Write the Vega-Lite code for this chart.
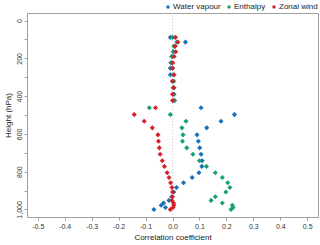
{
  "$schema": "https://vega.github.io/schema/vega-lite/v6.json",
  "autosize": {"type": "none"},
  "width": 291,
  "height": 204,
  "padding": {"left": 27, "top": 13, "right": 2, "bottom": 28},
  "background": "white",
  "config": {
    "view": {"stroke": "#a0a0a0", "strokeWidth": 1},
    "font": "Liberation Sans",
    "axis": {"grid": false, "domain": false, "tickColor": "#a0a0a0", "labelColor": "#333333", "titleColor": "#222222", "labelFont": "Liberation Sans", "titleFont": "Liberation Sans", "titleFontWeight": "normal", "labelOverlap": false, "labelFlush": false},
    "legend": {"layout": {"top": {"anchor": "end"}}}
  },
  "data": {
    "values": [
      {"p": 89, "r": -0.008, "series": "Water vapour"},
      {"p": 114, "r": 0.048, "series": "Water vapour"},
      {"p": 136, "r": 0.008, "series": "Water vapour"},
      {"p": 165, "r": 0.003, "series": "Water vapour"},
      {"p": 190, "r": -0.002, "series": "Water vapour"},
      {"p": 223, "r": -0.006, "series": "Water vapour"},
      {"p": 252, "r": -0.008, "series": "Water vapour"},
      {"p": 287, "r": -0.008, "series": "Water vapour"},
      {"p": 321, "r": 0.0, "series": "Water vapour"},
      {"p": 356, "r": 0.003, "series": "Water vapour"},
      {"p": 390, "r": 0.006, "series": "Water vapour"},
      {"p": 423, "r": 0.008, "series": "Water vapour"},
      {"p": 462, "r": 0.106, "series": "Water vapour"},
      {"p": 498, "r": 0.23, "series": "Water vapour"},
      {"p": 533, "r": 0.18, "series": "Water vapour"},
      {"p": 568, "r": 0.127, "series": "Water vapour"},
      {"p": 605, "r": 0.091, "series": "Water vapour"},
      {"p": 639, "r": 0.096, "series": "Water vapour"},
      {"p": 674, "r": 0.101, "series": "Water vapour"},
      {"p": 708, "r": 0.106, "series": "Water vapour"},
      {"p": 742, "r": 0.11, "series": "Water vapour"},
      {"p": 772, "r": 0.109, "series": "Water vapour"},
      {"p": 806, "r": 0.098, "series": "Water vapour"},
      {"p": 831, "r": 0.073, "series": "Water vapour"},
      {"p": 859, "r": 0.041, "series": "Water vapour"},
      {"p": 884, "r": 0.015, "series": "Water vapour"},
      {"p": 908, "r": 0.005, "series": "Water vapour"},
      {"p": 933, "r": -0.003, "series": "Water vapour"},
      {"p": 952, "r": -0.013, "series": "Water vapour"},
      {"p": 966, "r": -0.033, "series": "Water vapour"},
      {"p": 978, "r": -0.042, "series": "Water vapour"},
      {"p": 990, "r": -0.026, "series": "Water vapour"},
      {"p": 1000, "r": -0.069, "series": "Water vapour"},
      {"p": 89, "r": 0.001, "series": "Enthalpy"},
      {"p": 114, "r": 0.016, "series": "Enthalpy"},
      {"p": 136, "r": 0.005, "series": "Enthalpy"},
      {"p": 165, "r": 0.003, "series": "Enthalpy"},
      {"p": 190, "r": -0.003, "series": "Enthalpy"},
      {"p": 223, "r": -0.004, "series": "Enthalpy"},
      {"p": 252, "r": 0.0, "series": "Enthalpy"},
      {"p": 287, "r": 0.002, "series": "Enthalpy"},
      {"p": 321, "r": 0.005, "series": "Enthalpy"},
      {"p": 356, "r": 0.006, "series": "Enthalpy"},
      {"p": 390, "r": 0.003, "series": "Enthalpy"},
      {"p": 423, "r": 0.004, "series": "Enthalpy"},
      {"p": 462, "r": -0.086, "series": "Enthalpy"},
      {"p": 498, "r": -0.008, "series": "Enthalpy"},
      {"p": 533, "r": 0.05, "series": "Enthalpy"},
      {"p": 568, "r": 0.035, "series": "Enthalpy"},
      {"p": 605, "r": 0.039, "series": "Enthalpy"},
      {"p": 639, "r": 0.037, "series": "Enthalpy"},
      {"p": 674, "r": 0.053, "series": "Enthalpy"},
      {"p": 708, "r": 0.076, "series": "Enthalpy"},
      {"p": 742, "r": 0.1, "series": "Enthalpy"},
      {"p": 772, "r": 0.126, "series": "Enthalpy"},
      {"p": 806, "r": 0.159, "series": "Enthalpy"},
      {"p": 831, "r": 0.185, "series": "Enthalpy"},
      {"p": 859, "r": 0.205, "series": "Enthalpy"},
      {"p": 884, "r": 0.213, "series": "Enthalpy"},
      {"p": 908, "r": 0.198, "series": "Enthalpy"},
      {"p": 933, "r": 0.159, "series": "Enthalpy"},
      {"p": 952, "r": 0.143, "series": "Enthalpy"},
      {"p": 966, "r": 0.185, "series": "Enthalpy"},
      {"p": 978, "r": 0.222, "series": "Enthalpy"},
      {"p": 990, "r": 0.225, "series": "Enthalpy"},
      {"p": 1000, "r": 0.217, "series": "Enthalpy"},
      {"p": 89, "r": 0.011, "series": "Zonal wind"},
      {"p": 114, "r": 0.02, "series": "Zonal wind"},
      {"p": 136, "r": 0.01, "series": "Zonal wind"},
      {"p": 165, "r": 0.012, "series": "Zonal wind"},
      {"p": 190, "r": 0.006, "series": "Zonal wind"},
      {"p": 223, "r": 0.001, "series": "Zonal wind"},
      {"p": 252, "r": 0.0, "series": "Zonal wind"},
      {"p": 287, "r": 0.006, "series": "Zonal wind"},
      {"p": 321, "r": 0.0, "series": "Zonal wind"},
      {"p": 356, "r": 0.004, "series": "Zonal wind"},
      {"p": 390, "r": 0.0, "series": "Zonal wind"},
      {"p": 423, "r": 0.0, "series": "Zonal wind"},
      {"p": 462, "r": -0.063, "series": "Zonal wind"},
      {"p": 498, "r": -0.142, "series": "Zonal wind"},
      {"p": 533, "r": -0.105, "series": "Zonal wind"},
      {"p": 568, "r": -0.075, "series": "Zonal wind"},
      {"p": 605, "r": -0.054, "series": "Zonal wind"},
      {"p": 639, "r": -0.052, "series": "Zonal wind"},
      {"p": 674, "r": -0.049, "series": "Zonal wind"},
      {"p": 708, "r": -0.046, "series": "Zonal wind"},
      {"p": 742, "r": -0.038, "series": "Zonal wind"},
      {"p": 772, "r": -0.03, "series": "Zonal wind"},
      {"p": 806, "r": -0.02, "series": "Zonal wind"},
      {"p": 831, "r": -0.013, "series": "Zonal wind"},
      {"p": 859, "r": -0.007, "series": "Zonal wind"},
      {"p": 884, "r": -0.002, "series": "Zonal wind"},
      {"p": 908, "r": 0.0, "series": "Zonal wind"},
      {"p": 933, "r": 0.0, "series": "Zonal wind"},
      {"p": 952, "r": -0.002, "series": "Zonal wind"},
      {"p": 966, "r": 0.004, "series": "Zonal wind"},
      {"p": 978, "r": 0.005, "series": "Zonal wind"},
      {"p": 990, "r": 0.002, "series": "Zonal wind"},
      {"p": 1000, "r": -0.008, "series": "Zonal wind"}
    ]
  },
  "encoding": {
    "x": {
      "field": "r", "type": "quantitative",
      "scale": {"domain": [-0.54, 0.54], "nice": false, "zero": false},
      "axis": {"title": "Correlation coefficient", "tickCount": 11, "format": ".1f", "labelExpr": "replace(datum.label, '\u2212', '-')", "labelOverlap": false, "labelFlush": false, "labelBound": false, "labelFontSize": 7, "titleFontSize": 8, "tickSize": 3, "labelPadding": 2, "titlePadding": 4}
    }
  },
  "layer": [
    {
      "mark": {"type": "rule", "color": "#cccccc", "strokeDash": [1, 2], "strokeWidth": 1},
      "encoding": {"x": {"datum": 0, "type": "quantitative"}}
    },
    {
      "mark": {"type": "point", "shape": "diamond", "filled": true, "size": 26, "opacity": 1},
      "encoding": {
        "y": {
          "field": "p", "type": "quantitative",
          "scale": {"domain": [-40, 1040], "nice": false, "zero": false, "reverse": true},
          "axis": {"title": "Height (hPa)", "values": [0, 100, 200, 300, 400, 500, 600, 700, 800, 900, 1000], "labelExpr": "datum.value % 200 == 0 ? datum.label : ''", "labelOverlap": false, "labelAngle": 270, "labelAlign": "center", "labelBaseline": "bottom", "labelFontSize": 7, "titleFontSize": 8, "tickSize": 3, "labelPadding": 2, "titlePadding": 3}
        },
        "color": {
          "field": "series", "type": "nominal",
          "scale": {"domain": ["Water vapour", "Enthalpy", "Zonal wind"], "range": ["#1770b8", "#16a077", "#d62027"]},
          "legend": {"title": null, "orient": "top", "direction": "horizontal", "symbolType": "circle", "symbolSize": 12, "labelFontSize": 8, "labelColor": "#222222", "labelOffset": 1, "columnPadding": 4, "offset": 2, "padding": 0}
        }
      }
    }
  ]
}
